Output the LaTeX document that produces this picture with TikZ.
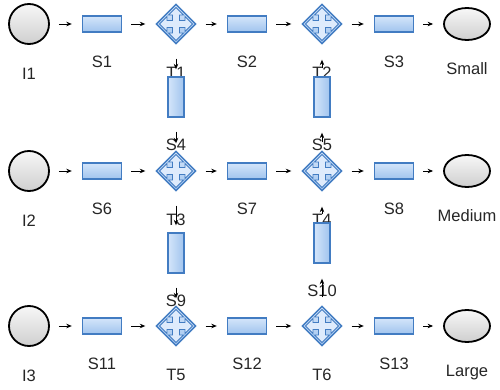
\documentclass[tikz,border=0pt]{standalone}
\usepackage{fontspec}
\setmainfont{Liberation Sans}
\usetikzlibrary{positioning,shapes.geometric,arrows.meta}
\definecolor{netblue}{RGB}{66,124,194}
\definecolor{nettop}{RGB}{212,229,250}
\definecolor{netbottom}{RGB}{160,196,238}
\definecolor{netlight}{RGB}{222,235,252}
\tikzset{%
  every label/.style={
    font=\fontsize{16.5}{18}\selectfont,
    text=black!85,
    inner sep=0pt,
    text height=11.8pt,
    text depth=0pt
  },
  every input/.style={
    circle,
    draw=black,
    line width=1.8pt,
    minimum size=40pt,
    inner sep=0pt,
    top color=gray!6,
    bottom color=gray!38,
    label={[label distance=23pt]below:#1}
  },
  every output/.style={
    ellipse,
    draw=black,
    line width=1.8pt,
    minimum width=46pt,
    minimum height=32pt,
    inner sep=0pt,
    top color=gray!6,
    bottom color=gray!38,
    label={[label distance=22pt]below:#1}
  },
  every state/.style={
    rectangle,
    draw=netblue,
    line width=1.4pt,
    minimum width=39pt,
    minimum height=16pt,
    inner sep=0pt,
    top color=nettop,
    bottom color=netbottom,
    label={[label distance=23pt]below:#1}
  },
  state vertical/.style={
    rectangle,
    draw=netblue,
    line width=1.4pt,
    minimum width=16pt,
    minimum height=40pt,
    inner sep=0pt,
    left color=nettop,
    right color=netbottom,
    label={[label distance=20.5pt]below:#1}
  },
  every trans/.style={
    diamond,
    draw=netblue,
    line width=1.4pt,
    minimum width=40pt,
    minimum height=40pt,
    inner sep=0pt,
    top color=nettop,
    bottom color=netbottom,
    label={[label distance=21.5pt]below:#1},
    path picture={
      \begin{scope}[shift={(path picture bounding box.center)}]
        \draw[netblue, line width=0.8pt, fill=netlight]
          (3.5,3.5) -- (9,3.5) -- (9,7.5) -- (16.5,0) -- (9,-7.5) -- (9,-3.5)
          -- (3.5,-3.5) -- (3.5,-9) -- (7.5,-9) -- (0,-16.5) -- (-7.5,-9) -- (-3.5,-9)
          -- (-3.5,-3.5) -- (-9,-3.5) -- (-9,-7.5) -- (-16.5,0) -- (-9,7.5) -- (-9,3.5)
          -- (-3.5,3.5) -- (-3.5,9) -- (-7.5,9) -- (0,16.5) -- (7.5,9) -- (3.5,9) -- cycle;
      \end{scope}
    }
  },
  flow/.style={->, line width=0.8pt, shorten <=9pt, shorten >=10pt},
  down flow/.style={->, line width=0.8pt, shorten <=14pt, shorten >=7pt},
  up flow/.style={->, line width=0.8pt, shorten <=8pt, shorten >=15pt}
}

\begin{document}
\begin{tikzpicture}[x=1pt, y=-1pt, >={Stealth[length=5.5pt,width=4.5pt]}]
        \useasboundingbox (0,0) rectangle (500,390);
        % the three rows
        \foreach \r/\y/\sa/\sb/\sc/\ta/\tb/\out in {1/24/1/2/3/1/2/Small, 2/171/6/7/8/3/4/Medium, 3/326/11/12/13/5/6/Large} {
            \node [every input=I\r] (I\r) at (29,\y) {};
            \node [every state=S\sa] (S\sa) at (102,\y) {};
            \node [every trans=T\ta] (T\ta) at (176,\y) {};
            \node [every state=S\sb] (S\sb) at (247,\y) {};
            \node [every trans=T\tb] (T\tb) at (322,\y) {};
            \node [every state=S\sc] (S\sc) at (394,\y) {};
            \node [every output=\out] (\out) at (467,\y) {};
            \draw [flow] (I\r) -- (S\sa);
            \draw [flow] (S\sa) -- (T\ta);
            \draw [flow] (T\ta) -- (S\sb);
            \draw [flow] (S\sb) -- (T\tb);
            \draw [flow] (T\tb) -- (S\sc);
            \draw [flow] (S\sc) -- (\out);
        }
        % the two columns
        \foreach \s/\x/\y in {4/176/97, 9/176/253, 5/322/97, 10/322/243}
            \node [state vertical=S\s] (S\s) at (\x,\y) {};

        \foreach \a/\b in {T1/S4, S4/T3, T3/S9, S9/T5}
            \draw [down flow] (\a) -- (\b);
        \foreach \a/\b in {T6/S10, S10/T4, T4/S5, S5/T2}
            \draw [up flow] (\a) -- (\b);
\end{tikzpicture}
\end{document}
